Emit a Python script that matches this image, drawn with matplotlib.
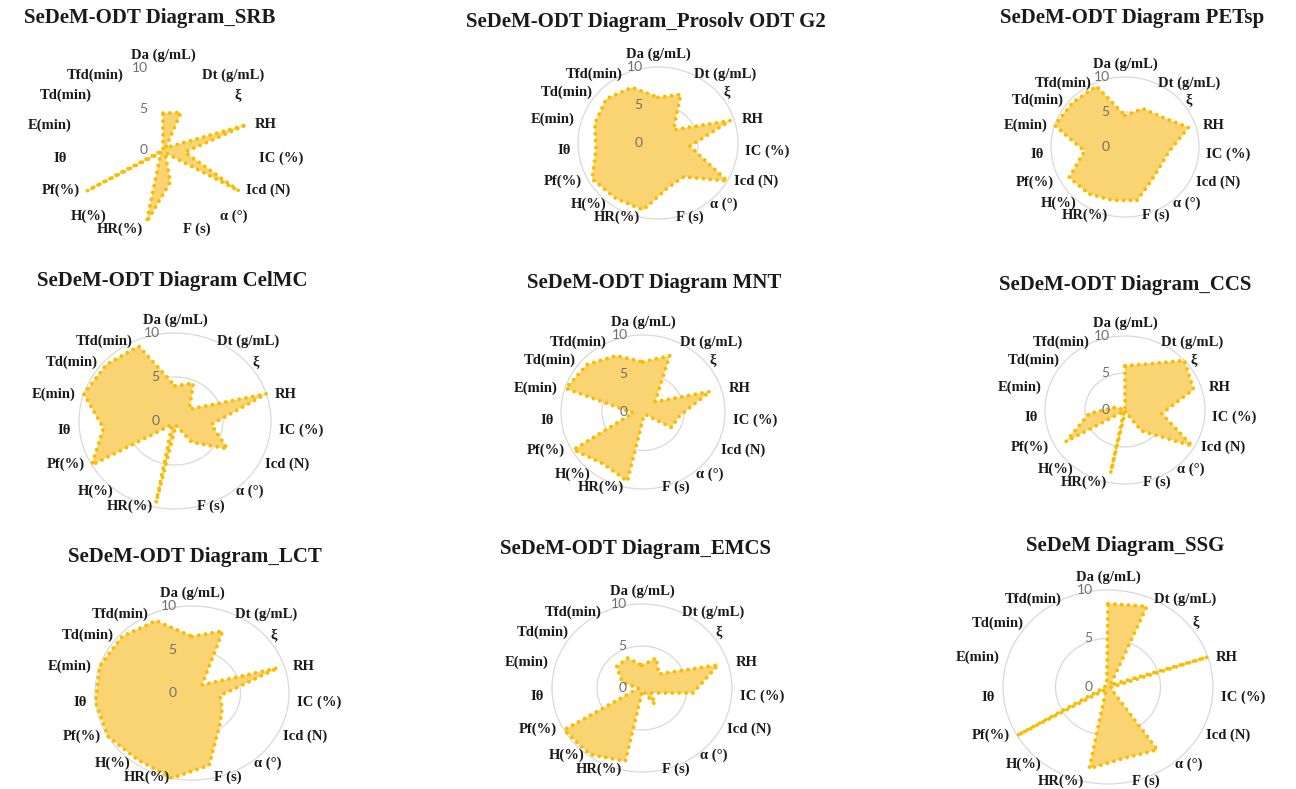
import numpy as np
import matplotlib
matplotlib.use("Agg")
import matplotlib.pyplot as plt
from matplotlib.patches import Circle

# SeDeM-ODT parameters, clockwise from the top
params = ["Da (g/mL)", "Dt (g/mL)", "ξ", "RH", "IC (%)", "Icd (N)", "α (°)", "F (s)",
          "HR(%)", "H(%)", "Pf(%)", "Iθ", "E(min)", "Td(min)", "Tfd(min)"]
ticks = [0, 5, 10]

# values (same order as params)
srb = [4.5, 5.0, 0.4, 10.0, 2.5, 10.0, 0.4, 4.0, 9.0, 0.4, 10.0, 0.0, 0.0, 0.0, 0.0]
prosolv = [6.0, 7.0, 2.6, 9.5, 4.0, 10.0, 5.5, 6.0, 9.0, 9.0, 9.5, 7.8, 8.3, 8.7, 8.0]
petsp = [4.5, 6.0, 6.5, 9.0, 6.0, 5.5, 6.0, 7.8, 7.8, 8.3, 8.7, 5.5, 10.0, 9.5, 9.5]
celmc = [4.0, 4.7, 2.0, 10.0, 3.8, 6.3, 3.0, 0.5, 9.5, 0.5, 10.0, 7.5, 10.0, 9.6, 9.3]
mnt = [6.5, 8.0, 2.0, 8.6, 4.5, 4.0, 0.4, 0.5, 9.2, 8.3, 9.8, 1.2, 9.9, 9.2, 8.0]
ccs = [6.0, 6.8, 10.0, 9.0, 4.6, 9.7, 3.5, 0.2, 8.7, 0.2, 8.5, 4.5, 1.2, 0.0, 0.0]
lct = [6.5, 7.8, 1.4, 9.3, 2.9, 3.6, 4.8, 8.5, 10.0, 9.5, 10.0, 10.0, 10.0, 9.7, 9.1]
emcs = [2.7, 3.9, 2.5, 8.9, 5.7, 1.2, 2.4, 0.3, 8.9, 9.8, 10.0, 0.4, 2.3, 3.8, 3.9]
ssg = [8.6, 9.1, 0.3, 10.0, 0.3, 0.3, 8.0, 7.5, 8.6, 0.3, 10.0, 0.3, 0.3, 0.3, 0.3]

titles = ["SeDeM-ODT Diagram_SRB", "SeDeM-ODT Diagram_Prosolv ODT G2", "SeDeM-ODT Diagram PETsp",
          "SeDeM-ODT Diagram CelMC", "SeDeM-ODT Diagram MNT", "SeDeM-ODT Diagram_CCS",
          "SeDeM-ODT Diagram_LCT", "SeDeM-ODT Diagram_EMCS", "SeDeM Diagram_SSG"]
series = [srb, prosolv, petsp, celmc, mnt, ccs, lct, emcs, ssg]

# placement in pixels: chart centre, radius of the 10 ring (x, y), title centre
centres = [(163, 150), (658, 143), (1125, 147), (175, 421), (643, 412), (1125, 410),
           (192, 693), (642, 688), (1108, 687)]
radii = [(88, 82), (80, 76), (74, 70), (96, 88), (82, 77), (80, 74), (97, 87), (90, 84), (105, 97)]
title_pos = [(150, 18), (646, 22), (1132, 18), (172, 281), (654, 283), (1125, 285),
             (195, 557), (635, 549), (1125, 546)]

W, H = 1296, 789
fill_c = "#FAD472"
line_c = "#F9BC00"
grid_c = "#D9D9D9"
serif = "Liberation Serif"

fig = plt.figure(figsize=(W / 100, H / 100), dpi=100)
fig.patch.set_facecolor("white")

ang = np.deg2rad(90 - 360 / len(params) * np.arange(len(params)))
L = 14

for i, vals in enumerate(series):
    cx, cy = centres[i]
    rh, rv = radii[i]
    ax = fig.add_axes([(cx - rh * L / 10) / W, (H - cy - rv * L / 10) / H,
                       2 * rh * L / 10 / W, 2 * rv * L / 10 / H])
    ax.set_xlim(-L, L)
    ax.set_ylim(-L, L)
    ax.axis("off")

    # first diagram has no gridlines in the original
    if i != 0:
        for r in ticks[1:]:
            ax.add_patch(Circle((0, 0), r, fill=False, ec=grid_c, lw=0.9, zorder=1))

    v = np.array(vals)
    x = np.append(v * np.cos(ang), v[0] * np.cos(ang[0]))
    y = np.append(v * np.sin(ang), v[0] * np.sin(ang[0]))
    ax.fill(x, y, color=fill_c, lw=0, zorder=2)
    ax.plot(x, y, color=line_c, lw=2.8, linestyle=(0, (0.01, 1.75)),
            dash_capstyle="round", zorder=3)

    for r in ticks:
        ax.annotate(str(r), (0, r), xytext=(-11, 0), textcoords="offset points",
                    ha="right", va="center", fontsize=10, color="#6F6F6F",
                    family="Lato", zorder=5)

    for a, lab in zip(ang, params):
        c, s = np.cos(a), np.sin(a)
        if s > 0.95:
            # top label sits just above the "10" tick label
            xy, off, ha, va = (0, 10.0), (0, 4.5), "center", "bottom"
        else:
            ha = "left" if c > 0 else "right"
            xy, off, va = (10.3 * c, 9.6 * s), (4 * c, 2 * s), "center"
        ax.annotate(lab, xy, xytext=off, textcoords="offset points", ha=ha, va=va,
                    fontsize=10.5, fontweight="bold", family=serif, color="#1a1a1a")

    tx, ty = title_pos[i]
    fig.text(tx / W, 1 - ty / H, titles[i], ha="center", va="center", fontsize=15,
             fontweight="bold", family=serif, color="#1a1a1a")

fig.savefig("out.png", dpi=100, facecolor="white")
